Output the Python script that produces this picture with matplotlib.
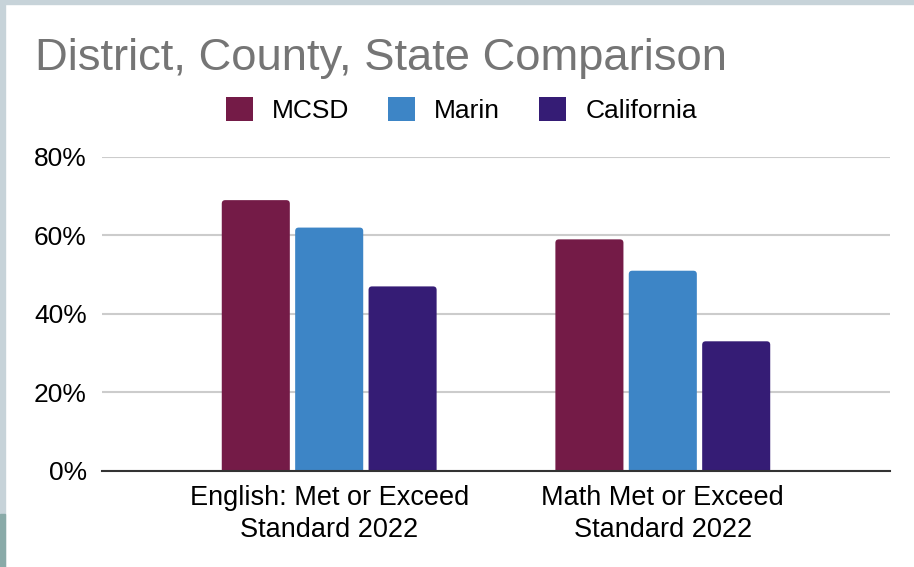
import matplotlib
matplotlib.use("Agg")
import matplotlib.pyplot as plt
from matplotlib.patches import Rectangle, Patch, FancyBboxPatch
import numpy as np

plt.rcParams['font.family'] = ['Liberation Sans', 'DejaVu Sans']

categories = ["English: Met or Exceed\nStandard 2022", "Math Met or Exceed\nStandard 2022"]
series_names = ["MCSD", "Marin", "California"]
mcsd = [0.69, 0.59]
marin = [0.62, 0.51]
california = [0.47, 0.33]
colors = ["#741b47", "#3d85c6", "#351c75"]
yticks = [0.0, 0.2, 0.4, 0.6, 0.8]
ytick_labels = ["0%", "20%", "40%", "60%", "80%"]

W, H = 914, 567
fig = plt.figure(figsize=(W / 100, H / 100), dpi=100)
fig.patch.set_facecolor("white")

# frame strips
fig.patches.append(Rectangle((0, 0), 5 / W, 1, transform=fig.transFigure, color="#c7d3d9", zorder=0))
fig.patches.append(Rectangle((0, 0), 5 / W, (H - 514) / H, transform=fig.transFigure, color="#89aaa8", zorder=0))
fig.patches.append(Rectangle((0, 1 - 4 / H), 1, 4 / H, transform=fig.transFigure, color="#c7d3d9", zorder=0))

ax = fig.add_axes([102 / W, 1 - 470.7 / H, (890 - 102) / W, (470.7 - 157) / H])
ax.set_facecolor("none")

x = np.arange(len(categories))
step = 0.22
width = 0.204
ax.set_xlim(-0.681, 1.681)
ax.set_ylim(0, 0.8)

# pixel scale for rounded corners
px_x = (1.681 + 0.681) / (890 - 102)
px_y = 0.8 / (470.7 - 157)
r = 3.5
for i, (vals, name, c) in enumerate(zip([mcsd, marin, california], series_names, colors)):
    bars = ax.bar(x + (i - 1) * step, vals, width=width, color=c, label=name, zorder=3)
    for b in bars:
        bx, by = b.get_x(), b.get_y()
        bw, bh = b.get_width(), b.get_height()
        b.set_visible(False)
        fb = FancyBboxPatch((bx, by - 0.02), bw, bh + 0.02,
                            boxstyle=f"round,pad=0,rounding_size={r * px_x}",
                            mutation_aspect=px_y / px_x,
                            facecolor=c, edgecolor="none", zorder=3, clip_on=True)
        ax.add_patch(fb)

ax.set_yticks(yticks)
ax.set_yticklabels(ytick_labels)
ax.set_xticks(x)
ax.set_xticklabels(categories, linespacing=1.28)
ax.tick_params(axis="both", length=0, labelsize=19, colors="#000000")
ax.tick_params(axis="x", labelsize=19.5)
ax.tick_params(axis="y", pad=11)
ax.tick_params(axis="x", pad=10.5)
for s in ["top", "right", "left"]:
    ax.spines[s].set_visible(False)
ax.spines["bottom"].set_color("#333333")
ax.spines["bottom"].set_linewidth(1.5)
ax.spines["bottom"].set_zorder(4)
ax.grid(axis="y", color="#cccccc", linewidth=1.5, zorder=0)
ax.set_axisbelow(True)

fig.text(35 / W, 1 - 70 / H, "District, County, State Comparison", fontsize=32.7,
         color="#757575", ha="left", va="baseline")

handles = [Patch(facecolor=c, edgecolor="none") for c in colors]
fig.legend(handles, series_names, loc="center", bbox_to_anchor=(461.3 / W, 1 - 110.4 / H),
           ncol=3, frameon=False, fontsize=19, handlelength=1.03, handleheight=1.03,
           handletextpad=0.72, columnspacing=1.47, borderpad=0, borderaxespad=0)

fig.savefig("out.png", dpi=100)
